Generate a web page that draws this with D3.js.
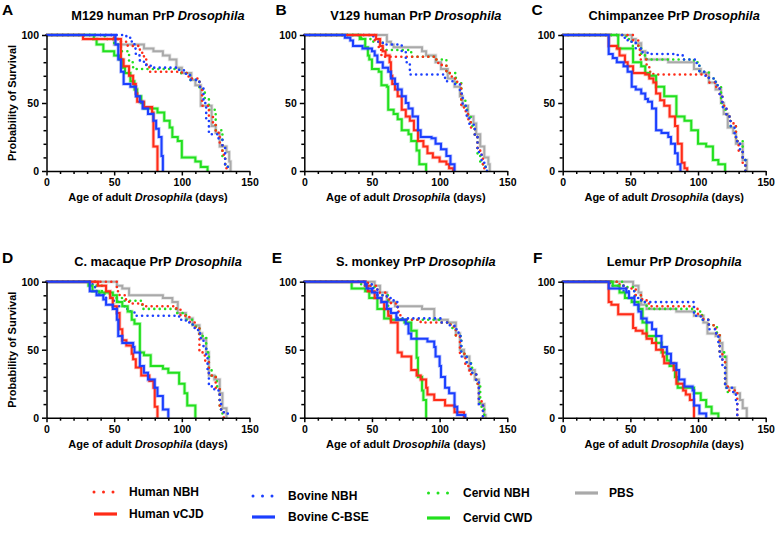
<!DOCTYPE html>
<meta charset="utf-8">
<style>
body { margin: 0; background: #fff; }
svg text { font-family: "Liberation Sans", Arial, sans-serif; font-weight: bold; fill: #000; }
.axis path, .axis line { stroke: #000; stroke-width: 1.5; }
.axis text { font-size: 10.5px; font-family: "Liberation Sans", Arial, sans-serif; font-weight: bold; }
</style>
<body>
<script src="https://cdn.jsdelivr.net/npm/d3@7"></script>
<script>

var width = 775, height = 535;

// panel titles / letters
var panelLetters = ["A", "B", "C", "D", "E", "F"];
var panelNames = ["M129 human PrP", "V129 human PrP", "Chimpanzee PrP", "C. macaque PrP", "S. monkey PrP", "Lemur PrP"];

// series (legend order)
var seriesNames = ["Human NBH", "Human vCJD", "Bovine NBH", "Bovine C-BSE", "Cervid NBH", "Cervid CWD", "PBS"];
var seriesKeys = ["humanNBH", "humanvCJD", "bovineNBH", "bovineBSE", "cervidNBH", "cervidCWD", "PBS"];

var xTicks = [0, 50, 100, 150];
var yTicks = [0, 50, 100];

// survival steps: [age (days), % surviving after the drop]; all start at 100 on day 0
var A_humanNBH = [[50,97],[55,95],[60,92],[69,87],[72,82],[74,78],[76,73],[100,72],[105,68],[113,62],[115,48],[120,40],[123,35],[125,28],[128,20],[130,12],[132,5],[133,0]];
var A_humanvCJD = [[27,97],[55,82],[57,77],[61,70],[64,64],[66,57],[67,51],[72,47],[78,43],[79,18],[82,0]];
var A_bovineNBH = [[59,98],[63,95],[65,90],[66,85],[69,81],[72,78],[77,76],[98,74],[103,71],[106,67],[113,62],[116,50],[118,38],[120,27],[127,24],[130,18],[132,5],[134,0]];
var A_bovineBSE = [[51,93],[53,82],[55,73],[57,64],[62,62],[66,55],[69,51],[71,46],[75,42],[79,37],[81,31],[83,25],[85,11],[86,0]];
var A_cervidNBH = [[43,97],[50,93],[55,88],[61,80],[64,75],[98,72],[106,67],[113,60],[117,53],[120,45],[125,30],[130,10],[132,5],[134,0]];
var A_cervidCWD = [[35,97],[37,93],[42,88],[50,85],[54,82],[56,76],[58,72],[62,66],[65,60],[67,55],[70,50],[72,46],[82,43],[87,37],[91,32],[93,25],[97,22],[100,10],[110,7],[114,3],[119,0]];
var A_PBS = [[50,93],[72,90],[79,88],[86,85],[91,82],[96,76],[100,72],[107,67],[110,63],[114,48],[122,33],[125,28],[128,18],[133,14],[135,7],[136,0]];

var B_humanNBH = [[52,95],[55,89],[57,84],[97,82],[99,78],[105,72],[109,68],[113,64],[116,48],[118,44],[121,38],[123,32],[126,25],[128,17],[130,12],[132,5],[133,0]];
var B_humanvCJD = [[53,97],[56,92],[58,88],[60,85],[63,80],[64,70],[65,64],[67,60],[69,55],[72,45],[75,40],[78,37],[81,30],[84,22],[88,18],[91,13],[95,10],[100,7],[105,5],[107,2],[110,0]];
var B_bovineNBH = [[51,98],[53,95],[58,93],[72,88],[75,80],[78,71],[104,66],[111,64],[115,57],[117,48],[120,40],[122,34],[126,25],[128,14],[131,8],[133,3],[135,0]];
var B_bovineBSE = [[30,98],[34,96],[36,92],[43,90],[50,88],[52,85],[54,80],[58,76],[62,73],[64,68],[67,64],[69,60],[72,55],[75,50],[77,46],[80,40],[84,30],[86,25],[94,24],[97,20],[101,16],[105,11],[108,5],[111,0]];
var B_cervidNBH = [[42,97],[51,95],[58,89],[79,84],[97,82],[105,72],[112,65],[116,52],[119,45],[121,40],[123,33],[126,25],[128,12],[130,7],[132,3],[134,0]];
var B_cervidCWD = [[41,97],[45,91],[47,85],[48,82],[50,75],[55,73],[57,63],[61,62],[62,45],[66,42],[69,38],[72,30],[77,27],[79,22],[83,15],[85,5],[90,0]];
var B_PBS = [[61,95],[64,93],[66,91],[87,88],[90,85],[97,80],[101,75],[106,68],[111,62],[115,55],[117,48],[121,40],[125,35],[127,27],[130,18],[133,10],[136,5],[137,0]];

var C_humanNBH = [[52,96],[56,90],[57,82],[62,78],[64,73],[67,71],[106,69],[108,65],[113,62],[116,55],[118,48],[121,40],[124,35],[128,22],[130,15],[133,5],[135,0]];
var C_humanvCJD = [[34,92],[40,90],[42,85],[46,80],[48,77],[52,72],[61,71],[64,68],[67,65],[69,57],[72,52],[75,48],[79,40],[83,33],[85,20],[88,6],[90,2],[92,0]];
var C_bovineNBH = [[45,98],[48,95],[54,90],[59,87],[65,86],[85,85],[89,82],[99,78],[101,73],[105,70],[108,68],[113,63],[116,55],[118,47],[121,40],[124,33],[127,25],[129,20],[131,15],[133,8],[135,0]];
var C_bovineBSE = [[34,86],[37,83],[40,80],[45,77],[48,73],[51,62],[54,60],[58,57],[61,53],[63,51],[66,46],[69,30],[73,28],[78,25],[80,20],[83,13],[85,5],[87,0]];
var C_cervidNBH = [[47,97],[51,92],[58,85],[62,82],[97,80],[101,73],[108,68],[113,63],[117,50],[119,45],[121,40],[124,33],[128,22],[133,8],[135,0]];
var C_cervidCWD = [[41,90],[52,80],[58,77],[61,72],[64,70],[69,62],[75,55],[84,40],[90,37],[95,30],[100,20],[106,18],[111,8],[115,5],[120,0]];
var C_PBS = [[51,97],[54,94],[58,88],[61,82],[78,80],[97,75],[102,72],[108,65],[113,60],[117,50],[119,42],[122,32],[126,28],[128,20],[133,8],[136,0]];

var D_humanNBH = [[52,93],[54,90],[58,87],[61,84],[71,82],[96,80],[99,75],[103,74],[106,70],[110,66],[113,48],[117,42],[120,31],[125,22],[128,6],[131,0]];
var D_humanvCJD = [[38,97],[44,93],[47,88],[49,82],[52,77],[54,65],[56,57],[59,53],[63,47],[64,43],[66,37],[70,31],[76,27],[79,22],[80,8],[82,0]];
var D_bovineNBH = [[34,96],[37,93],[39,90],[44,88],[49,86],[53,82],[59,80],[62,78],[65,75],[98,72],[103,70],[108,66],[112,62],[114,58],[116,52],[118,45],[119,33],[120,23],[124,20],[128,12],[129,6],[131,3],[134,0]];
var D_bovineBSE = [[32,93],[37,90],[42,87],[44,83],[49,80],[52,72],[53,60],[56,55],[64,52],[65,48],[69,38],[72,33],[75,28],[80,22],[82,16],[86,6],[90,0]];
var D_cervidNBH = [[37,97],[41,91],[48,88],[56,86],[70,83],[71,80],[96,77],[103,72],[108,67],[113,60],[118,48],[120,35],[122,30],[126,23],[128,6],[130,0]];
var D_cervidCWD = [[31,97],[34,93],[39,92],[49,90],[52,85],[56,82],[60,78],[63,72],[65,69],[69,48],[72,46],[77,38],[86,36],[90,33],[98,25],[102,18],[104,9],[110,0]];
var D_PBS = [[52,97],[56,95],[61,90],[86,88],[93,85],[97,77],[103,73],[108,68],[113,62],[115,58],[118,48],[120,31],[124,28],[128,18],[130,7],[133,0]];

var E_humanNBH = [[47,97],[54,92],[61,87],[64,84],[69,78],[71,72],[86,70],[108,67],[112,60],[115,47],[119,38],[122,32],[127,25],[129,12],[132,0]];
var E_humanvCJD = [[45,97],[47,93],[52,88],[57,85],[59,80],[62,75],[64,70],[69,48],[72,45],[79,35],[83,31],[86,28],[90,22],[91,17],[96,13],[104,9],[111,4],[118,0]];
var E_bovineNBH = [[46,98],[51,95],[54,90],[61,88],[66,85],[69,73],[101,70],[106,68],[111,65],[114,60],[116,45],[120,40],[123,33],[127,27],[129,10],[132,0]];
var E_bovineBSE = [[45,98],[46,95],[50,92],[54,88],[57,85],[61,80],[64,77],[68,72],[75,69],[77,62],[79,58],[91,56],[96,52],[97,45],[100,38],[101,30],[104,22],[107,18],[111,8],[113,2],[119,0]];
var E_cervidNBH = [[42,97],[52,90],[62,75],[64,72],[100,70],[108,66],[112,60],[116,47],[120,40],[124,32],[127,25],[130,8],[133,0]];
var E_cervidCWD = [[35,95],[45,93],[48,88],[54,80],[59,73],[64,72],[74,70],[79,64],[83,44],[84,30],[87,20],[88,13],[90,0]];
var E_PBS = [[52,97],[56,92],[61,85],[67,82],[87,80],[96,72],[106,70],[112,62],[115,50],[118,45],[122,35],[126,28],[129,10],[133,2],[134,0]];

var F_humanNBH = [[42,97],[47,95],[54,90],[58,87],[62,84],[64,82],[97,80],[100,75],[104,72],[108,68],[113,62],[116,47],[118,42],[120,23],[122,20],[129,0]];
var F_humanvCJD = [[34,85],[36,83],[41,76],[52,66],[54,64],[59,62],[62,58],[66,55],[69,50],[74,45],[75,40],[82,35],[84,25],[89,20],[91,17],[94,13],[97,0]];
var F_bovineNBH = [[35,97],[45,93],[53,88],[58,85],[97,75],[102,72],[108,65],[113,62],[115,55],[116,45],[118,38],[120,22],[126,18],[128,10],[129,0]];
var F_bovineBSE = [[34,95],[47,92],[49,88],[53,83],[56,78],[58,73],[62,70],[66,65],[69,60],[73,52],[77,47],[80,40],[84,35],[86,28],[90,23],[96,20],[97,9],[101,3],[106,0]];
var F_cervidNBH = [[45,96],[53,90],[58,85],[62,82],[64,80],[97,78],[103,72],[108,68],[114,62],[116,48],[120,22],[122,18]];
var F_cervidCWD = [[37,97],[42,92],[46,88],[51,85],[56,80],[59,70],[62,60],[69,55],[73,48],[77,42],[79,38],[83,30],[85,22],[97,18],[102,13],[106,8],[110,3],[115,0]];
var F_PBS = [[52,97],[56,92],[58,83],[62,80],[84,78],[97,75],[104,70],[107,62],[113,60],[116,55],[118,45],[121,22],[127,18],[131,13],[133,7],[136,0]];

var panelData = [
  [A_humanNBH, A_humanvCJD, A_bovineNBH, A_bovineBSE, A_cervidNBH, A_cervidCWD, A_PBS],
  [B_humanNBH, B_humanvCJD, B_bovineNBH, B_bovineBSE, B_cervidNBH, B_cervidCWD, B_PBS],
  [C_humanNBH, C_humanvCJD, C_bovineNBH, C_bovineBSE, C_cervidNBH, C_cervidCWD, C_PBS],
  [D_humanNBH, D_humanvCJD, D_bovineNBH, D_bovineBSE, D_cervidNBH, D_cervidCWD, D_PBS],
  [E_humanNBH, E_humanvCJD, E_bovineNBH, E_bovineBSE, E_cervidNBH, E_cervidCWD, E_PBS],
  [F_humanNBH, F_humanvCJD, F_bovineNBH, F_bovineBSE, F_cervidNBH, F_cervidCWD, F_PBS]
];

// styling per series
var colors = {humanNBH: "#ff2b17", humanvCJD: "#ff2b17", bovineNBH: "#1b3fff", bovineBSE: "#1b3fff",
              cervidNBH: "#22e01e", cervidCWD: "#22e01e", PBS: "#a9a9a9"};
var dotted = {humanNBH: true, bovineNBH: true, cervidNBH: true};
// draw order (last on top)
var drawOrder = ["PBS", "cervidNBH", "humanNBH", "bovineNBH", "cervidCWD", "humanvCJD", "bovineBSE"];

var svg = d3.select("body").append("svg")
    .attr("width", width)
    .attr("height", height);

var colX = [46.5, 304.3, 562.7], rowY = [35, 281.7];
var pw = 203, ph = 136;

var line = d3.line().curve(d3.curveStepAfter);

panelLetters.forEach(function(letter, i) {
  var col = i % 3, row = Math.floor(i / 3);
  var g = svg.append("g").attr("transform", "translate(" + colX[col] + "," + rowY[row] + ")");

  var x = d3.scaleLinear().domain([0, 150]).range([0, pw]);
  var y = d3.scaleLinear().domain([0, 100]).range([ph, 0]);

  // minor ticks
  g.append("g").attr("class", "axis").attr("transform", "translate(0," + ph + ")")
    .call(d3.axisBottom(x).tickValues(d3.range(10, 150, 10).filter(function(v){ return v % 50; }))
      .tickSize(3).tickSizeOuter(0).tickFormat(""))
    .select(".domain").remove();
  g.append("g").attr("class", "axis")
    .call(d3.axisLeft(y).tickValues(d3.range(10, 100, 10).filter(function(v){ return v % 50; }))
      .tickSize(3).tickSizeOuter(0).tickFormat(""))
    .select(".domain").remove();

  // curves
  drawOrder.forEach(function(key) {
    var k = seriesKeys.indexOf(key);
    var pts = [[0, 100]].concat(panelData[i][k]);
    var d = line(pts.map(function(p){ return [x(p[0]), y(p[1])]; }));
    if (dotted[key]) {
      g.append("path").attr("d", d)
        .attr("fill", "none").attr("stroke", colors[key])
        .attr("stroke-width", 2.6).attr("stroke-linecap", "round")
        .attr("stroke-dasharray", "0 5.4");
    } else {
      g.append("path").attr("d", d)
        .attr("fill", "none").attr("stroke", colors[key])
        .attr("stroke-width", 3.6).attr("stroke-opacity", 0.3);
      g.append("path").attr("d", d)
        .attr("fill", "none").attr("stroke", colors[key])
        .attr("stroke-width", 2);
    }
  });

  // major axes
  g.append("g").attr("class", "axis").attr("transform", "translate(0," + ph + ")")
    .call(d3.axisBottom(x).tickValues(xTicks).tickSize(4.5).tickSizeOuter(0).tickPadding(3));
  g.append("g").attr("class", "axis")
    .call(d3.axisLeft(y).tickValues(yTicks).tickSize(4.5).tickSizeOuter(0).tickPadding(3));

  // title
  var t = g.append("text")
    .attr("x", pw / 2 + 10).attr("y", -15.5)
    .attr("text-anchor", "middle")
    .style("font-size", "12.8px");
  t.append("tspan").text(panelNames[i] + " ");
  t.append("tspan").style("font-style", "italic").text("Drosophila");

  // x label
  var xl = g.append("text")
    .attr("x", pw / 2).attr("y", ph + 30)
    .attr("text-anchor", "middle")
    .style("font-size", "11px");
  xl.append("tspan").text("Age of adult ");
  xl.append("tspan").style("font-style", "italic").text("Drosophila");
  xl.append("tspan").text(" (days)");

  // y label only on first column
  if (col === 0) {
    g.append("text")
      .attr("transform", "translate(" + (16 - colX[0]) + "," + (ph / 2) + ") rotate(-90)")
      .attr("text-anchor", "middle")
      .style("font-size", "11px")
      .text("Probability of Survival");
  }
});

// panel letters
var letterPos = [[2, 15], [275.5, 15], [531.5, 15], [2, 262.7], [271.7, 262.7], [533, 262.7]];
svg.selectAll("text.letter")
  .data(panelLetters)
  .enter().append("text")
  .attr("class", "letter")
  .attr("x", function(d, i){ return letterPos[i][0]; })
  .attr("y", function(d, i){ return letterPos[i][1]; })
  .style("font-size", "15.5px")
  .text(function(d){ return d; });

// legend
var legendPos = {
  humanNBH: [94, 492, 129], humanvCJD: [94, 514, 129],
  bovineNBH: [253, 496, 288], bovineBSE: [252, 517, 288],
  cervidNBH: [428.5, 493, 463], cervidCWD: [427, 518, 463],
  PBS: [575, 493, 609]
};
seriesKeys.forEach(function(key, k) {
  var p = legendPos[key];
  var lg = svg.append("g").attr("class", "legend");
  if (dotted[key]) {
    lg.append("line")
      .attr("x1", p[0]).attr("x2", p[0] + 19.5).attr("y1", p[1]).attr("y2", p[1])
      .attr("stroke", colors[key]).attr("stroke-width", 3)
      .attr("stroke-linecap", "round").attr("stroke-dasharray", "0 9.5");
  } else {
    lg.append("line")
      .attr("x1", p[0]).attr("x2", p[0] + 23).attr("y1", p[1]).attr("y2", p[1])
      .attr("stroke", colors[key]).attr("stroke-width", 3.2);
  }
  lg.append("text")
    .attr("x", p[2]).attr("y", p[1] + 4.2)
    .style("font-size", "12px")
    .text(seriesNames[k]);
});

</script>
